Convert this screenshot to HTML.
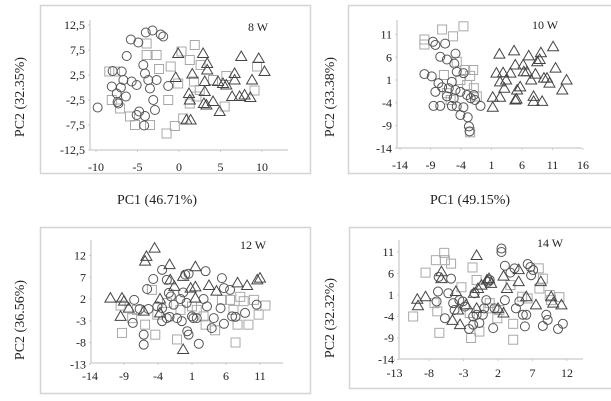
<!DOCTYPE html>
<html><head><meta charset="utf-8"><style>
html,body{margin:0;padding:0;background:#fff;}
svg{display:block;font-family:"Liberation Serif",serif;}
</style></head><body>
<svg id="chart" width="611" height="401" viewBox="0 0 611 401" xmlns="http://www.w3.org/2000/svg"></svg>
<script>
// ---- Panel 8 W ----
const p1_circle_x=[-9.8,-5.8,-4.9,-4.0,-3.2,-2.2,-1.9,-6.3,-8.1,-8.0,-6.9,-6.7,-7.5,-7.3,-6.4,-5.7,-5.1,-4.3,-4.1,-3.7,-3.5,-3.1,-2.9,-4.8,-5.1,-4.1,-4.2,-1.3,-2.7,-7.0,-7.4];
const p1_circle_y=[-4.0,9.6,9.0,11.0,11.4,10.6,10.2,6.3,0.2,3.3,3.2,1.5,-1.2,-3.2,-1.8,1.2,0.5,4.5,2.8,1.5,-0.2,-2.5,-4.5,-4.8,-5.5,-5.7,-7.6,0.3,1.5,0,-2.9];
const p1_square_x=[-7.7,-8.4,-8.1,-7.1,-5.9,-5.3,-3.9,-3.9,-2.7,-2.4,-1.0,0.3,1.3,1.9,2.6,1.8,-0.1,-1.3,-0.5,-1.5,0.5,1.3,2.5,4.1,5.7,5.5,9.4,9.1,-3.5,2.1];
const p1_square_y=[3.2,3.2,-2.5,-4.2,-5.8,-7.5,8.8,6.5,6.5,3.7,4.2,7.2,5.5,8.5,4.5,1.2,0.8,-2.5,-7.7,-9.2,-6.2,-3.2,-0.5,1.5,2.3,-3.8,4.2,-0.6,-7.5,-1.8];
const p1_triangle_x=[-0.1,1.6,-0.4,1.2,1.3,2.9,3.4,3.4,3.1,3.1,3.0,3.3,4.1,4.7,5.3,4.9,5.7,6.4,6.7,6.7,7.3,7.5,7.9,8.6,8.8,9.6,10.3,0.9,1.4];
const p1_triangle_y=[6.8,2.7,2.0,-1.2,-2.5,6.8,4.8,3.5,1.2,-0.8,-3.2,-3.5,-2.8,1.2,0.8,-4.8,0.5,-1.8,2.8,1.5,-1.8,6.2,-1.5,-2.0,1.5,5.8,3.2,-6.5,-6.5];
const p1_xticks=[-10,-5,0,5,10];
const p1_yticks=[12.5,7.5,2.5,-2.5,-7.5,-12.5];
// ---- Panel 10 W ----
const p2_circle_x=[-10.0,-8.8,-8.6,-8.2,-6.6,-7.4,-6.3,-4.9,-5.1,-4.7,-3.6,-5.5,-7.7,-7.1,-8.2,-6.0,-4.9,-4.1,-3.0,-2.4,-1.7,-0.8,-6.3,-5.2,-4.7,-3.6,-4.1,-2.9,-2.7,-2.6,-8.5,-7.4,-5.5,-1.9];
const p2_circle_y=[2.3,1.8,9.4,8.7,9.0,6.1,5.5,6.8,4.6,2.8,2.5,0.6,0.3,-0.6,-1.6,-0.8,-1.2,-1.6,-2.3,-3.0,-3.4,-4.7,-2.6,-3.0,-4.8,-5.0,-6.7,-7.2,-9.2,-10.3,-4.7,-4.7,-4.7,-2.3];
const p2_square_x=[-10.0,-10.0,-7.1,-5.3,-3.6,-2.0,-3.3,-2.5,-4.7,-4.1,-3.0,-1.9,-1.4,-6.3,-2.5,-6.8,-5.7];
const p2_square_y=[9.9,8.8,12.1,10.6,12.8,3.2,3.2,1.9,5.0,1.0,-0.1,-0.8,-2.6,-1.9,-10.5,2.1,-3.4];
const p2_triangle_x=[1.2,1.2,2.4,2.3,1.8,2.4,2.9,3.1,3.4,4.1,4.7,4.9,5.2,5.1,5.7,6.2,6.3,6.8,7.1,7.5,7.9,8.2,8.5,8.9,9.1,9.6,10.1,10.5,11.1,11.5,12.6,13.3,7.9,9.3,4.9];
const p2_triangle_y=[-5.0,-2.8,-2.8,6.7,2.5,0.6,2.6,-0.8,1.0,2.5,7.4,4.3,-1.2,-3.2,-0.5,4.3,2.8,2.8,6.3,1.0,-2.6,2.3,5.0,5.5,7.0,1.4,1.4,0.3,8.3,3.6,-1.2,1.0,-3.7,-3.7,-3.4];
const p2_xticks=[-14,-9,-4,1,6,11,16];
const p2_yticks=[11,6,1,-4,-9,-14];
// ---- Panel 12 W ----
const p3_circle_x=[-7.5,-6.1,-6.1,-5.6,-4.7,-3.4,-2.7,-2.4,-2.1,-1.7,-0.7,-0.3,0.0,0.5,0.2,-1.2,-0.5,0.3,0.5,1.0,1.2,1.7,2.0,2.7,3.0,3.2,4.2,3.9,5.2,5.4,5.7,5.7,6.6,6.9,7.4,8.8,10.5,-3.4,-2.7,-3.4,-2.3,-4.1,-7.7,-6.7,-5.4];
const p3_circle_y=[1.8,-6.2,-8.5,4.3,6.6,8.7,6.4,3.4,2.6,0.7,2.0,3.5,7.6,7.8,1.1,-2.4,-3.1,-5.4,-6.2,-2.0,-2.4,-2.4,-8.3,2.0,8.4,0.3,-2.4,-4.7,-0.1,6.8,4.5,-3.7,4.1,-2.0,-2.1,-1.2,0.7,-0.1,-2.4,-3.1,-2.1,0.3,-3.5,-0.3,-0.3];
const p3_square_x=[-9.3,-9.5,-7.8,-5.9,-4.4,-7.1,-4.9,-4.1,-1.2,-0.7,1.0,1.7,3.0,4.4,5.4,6.6,7.1,7.7,7.4,8.1,8.6,9.3,10.1,10.8,11.8,-2.7,2.7];
const p3_square_y=[-5.8,0.5,-2.4,-3.9,-6.2,-0.5,4.1,-1.6,-7.3,-0.5,0.3,-0.5,-3.9,-5.2,1.8,1.8,-0.5,-3.9,-8.0,2.5,1.5,-3.9,1.8,-1.6,0.5,1.1,-2.0];
const p3_triangle_x=[-11.0,-9.3,-8.3,-9.5,-5.7,-5.9,-4.5,-3.7,-2.3,-2.2,-1.6,-0.3,0.8,1.5,1.5,1.5,3.5,4.6,7.7,9.1,10.6,11.0,-0.3,-6.1,-9.0,-3.7];
const p3_triangle_y=[2.2,2.2,-0.1,-2.0,11.8,10.7,13.7,2.0,9.9,6.4,4.9,7.2,4.5,9.4,2.2,4.8,5.1,3.8,5.7,5.1,6.4,6.8,-9.6,-0.8,1.5,-1.2];
const p3_xticks=[-14,-9,-4,1,6,11];
const p3_yticks=[12,7,2,-3,-8,-13];
// ---- Panel 14 W ----
const p4_circle_x=[2.5,2.5,3.0,3.8,4.4,6.3,6.7,7.1,6.8,-6.9,-6.7,-6.6,-4.8,-5.2,-5.7,-4.5,-4.3,-3.1,-2.8,-2.2,-1.6,-1.4,-1.1,-0.7,-0.2,0.0,0.3,0.6,0.8,1.3,1.5,3.0,4.6,5.1,5.6,5.9,6.1,8.5,9.0,9.2,10.7,11.4,-3.6,-1.6];
const p4_circle_y=[11.8,11.0,7.8,6.2,7.2,8.2,7.5,6.8,5.6,-0.5,1.8,5.2,4.8,1.4,-4.4,-0.9,-2.5,-0.5,-1.7,-6.9,-5.9,1.4,-3.6,-5.5,-3.6,-2.1,-0.2,4.1,4.5,-6.7,-2.1,-0.2,-2.1,-0.5,-3.6,-6.3,-3.6,-6.2,-3.6,-4.8,-6.9,-5.7,-0.2,-4.0];
const p4_square_x=[-10.3,-8.5,-7.0,-5.8,-5.7,-4.8,-6.5,-7.2,-6.8,-3.3,-1.7,-1.1,-0.7,0.8,1.9,2.2,3.8,4.2,4.2,5.5,6.3,7.9,8.5,8.0,9.5,9.7,10.9,-1.9,-2.1,0.6];
const p4_square_y=[-4.0,6.2,9.1,10.8,9.1,8.3,-7.8,-0.9,-2.8,2.8,7.4,4.5,-7.5,-0.9,-4.4,-2.5,3.3,-5.7,-9.4,0.6,0.2,7.2,4.8,2.5,1.0,-0.2,0.5,-9.0,-3.2,-2.1];
const p4_triangle_x=[-9.7,-9.6,-8.5,-6.2,-6.2,-4.1,-4.6,-3.5,-2.6,-1.1,-1.5,-0.9,-0.4,0.4,0.7,1.0,2.0,2.8,3.3,2.8,5.0,5.0,6.1,7.5,8.2,9.7,10.0,11.2,-3.8,-1.1];
const p4_triangle_y=[0,-1.5,0.6,6.4,4.8,1.8,-4.9,-5.9,-1.3,10.2,1.4,2.5,3.3,4.5,4.8,3.7,-2.1,5.4,2.5,-3.2,6.9,4.1,0.6,-1.3,4.1,0.6,-0.9,-1.3,-2.5,-2.1];
const p4_xticks=[-13,-8,-3,2,7,12];
const p4_yticks=[11,6,1,-4,-9,-14];

const NS="http://www.w3.org/2000/svg";
const svg=document.getElementById('chart');
function mk(tag,attrs,parent){const e=document.createElementNS(NS,tag);for(const k in attrs)e.setAttribute(k,attrs[k]);(parent||svg).appendChild(e);return e;}

const panels=[
 {id:'8w',title:'8 W',frame:[40,5,270,168],ax:{x0:90,x1:288,yTop:20,yBot:150},
  xs:v=>179+8.3*v, ys:v=>87.5-5*v, xt:p1_xticks, yt:p1_yticks, fmt:v=>String(v).replace('.',','),
  tpos:[258,31], ytitle:'PC2 (32.35%)', ytx:19, yty:97, xtitle:'PC1 (46.71%)', xtx:157, xty:204, xlabY:171,
  c:[p1_circle_x,p1_circle_y], s:[p1_square_x,p1_square_y], t:[p1_triangle_x,p1_triangle_y]},
 {id:'10w',title:'10 W',frame:[348,5,270,168],ax:{x0:397,x1:582,yTop:20,yBot:148},
  xs:v=>461+6.1*(v+4), ys:v=>80-4.55*(v-1), xt:p2_xticks, yt:p2_yticks, fmt:v=>String(v),
  tpos:[545,29], ytitle:'PC2 (33.38%)', ytx:329, yty:97, xtitle:'PC1 (49.15%)', xtx:470, xty:204, xlabY:169,
  c:[p2_circle_x,p2_circle_y], s:[p2_square_x,p2_square_y], t:[p2_triangle_x,p2_triangle_y]},
 {id:'12w',title:'12 W',frame:[40,227,270,166],ax:{x0:91,x1:283,yTop:240,yBot:363},
  xs:v=>192+6.8*(v-1), ys:v=>299-4.35*(v-2), xt:p3_xticks, yt:p3_yticks, fmt:v=>String(v),
  tpos:[253,249], ytitle:'PC2 (36.56%)', ytx:19, yty:320, xlabY:380,
  c:[p3_circle_x,p3_circle_y], s:[p3_square_x,p3_square_y], t:[p3_triangle_x,p3_triangle_y]},
 {id:'14w',title:'14 W',frame:[349,227,270,161],ax:{x0:399,x1:583,yTop:240,yBot:359},
  xs:v=>498+6.9*(v-2), ys:v=>295-4.3*(v-1), xt:p4_xticks, yt:p4_yticks, fmt:v=>String(v),
  tpos:[550,247], ytitle:'PC2 (32.32%)', ytx:329, yty:318, xlabY:377,
  c:[p4_circle_x,p4_circle_y], s:[p4_square_x,p4_square_y], t:[p4_triangle_x,p4_triangle_y]}
];

panels.forEach(p=>{
  const g=mk('g',{});
  
  
  const fr=mk('rect',{x:p.frame[0]+0.5,y:p.frame[1]+0.5,width:p.frame[2],height:p.frame[3],fill:'none',stroke:'#d4d4d4','stroke-width':1.5},g);
  
  
  const ya=mk('line',{x1:p.ax.x0,y1:p.ax.yTop,x2:p.ax.x0,y2:p.ax.yBot,stroke:'#bdbdbd','stroke-width':1},g);
  
  
  const xa=mk('line',{x1:p.ax.x0,y1:p.ax.yBot,x2:p.ax.x1,y2:p.ax.yBot,stroke:'#bdbdbd','stroke-width':1},g);
  
  
  p.xt.forEach(v=>{
    const X=p.xs(v);
    mk('line',{x1:X,y1:p.ax.yBot,x2:X,y2:p.ax.yBot+2,stroke:'#ccc'},g);
    const t=mk('text',{x:X,y:p.xlabY,'text-anchor':'middle','font-size':12,fill:'#222'},g);
    t.textContent=p.fmt(v);
    
    
  });
  p.yt.forEach(v=>{
    const Y=p.ys(v);
    mk('line',{x1:p.ax.x0-2,y1:Y,x2:p.ax.x0,y2:Y,stroke:'#ccc'},g);
    const t=mk('text',{x:p.ax.x0-5,y:Y+4,'text-anchor':'end','font-size':12,fill:'#222'},g);
    t.textContent=p.fmt(v);
    
    
  });
  const tt=mk('text',{x:p.tpos[0],y:p.tpos[1],'text-anchor':'middle','font-size':12,fill:'#222'},g);
  tt.textContent=p.title;
  
  
  const yl=mk('text',{x:p.ytx,y:p.yty,'text-anchor':'middle','font-size':14,fill:'#222',transform:`rotate(-90 ${p.ytx} ${p.yty})`,dy:5},g);
  yl.textContent=p.ytitle;
  
  
  if(p.xtitle){
    const xl=mk('text',{x:p.xtx,y:p.xty,'text-anchor':'middle','font-size':14,fill:'#222'},g);
    xl.textContent=p.xtitle;
    
    
  }
  p.s[0].forEach((v,i)=>{
    const X=p.xs(v),Y=p.ys(p.s[1][i]);
    const m=mk('rect',{x:X-4.5,y:Y-4.5,width:9,height:9,fill:'none',stroke:'#a8a8a8','stroke-width':1},g);
    
    
  });
  p.c[0].forEach((v,i)=>{
    const X=p.xs(v),Y=p.ys(p.c[1][i]);
    const m=mk('circle',{cx:X,cy:Y,r:4.5,fill:'none',stroke:'#555','stroke-width':1},g);
    
    
  });
  p.t[0].forEach((v,i)=>{
    const X=p.xs(v),Y=p.ys(p.t[1][i]);
    const m=mk('polygon',{points:`${X},${Y-5.5} ${X-5.5},${Y+4} ${X+5.5},${Y+4}`,fill:'none',stroke:'#444','stroke-width':1},g);
    
    
  });
});
</script>
</body></html>
